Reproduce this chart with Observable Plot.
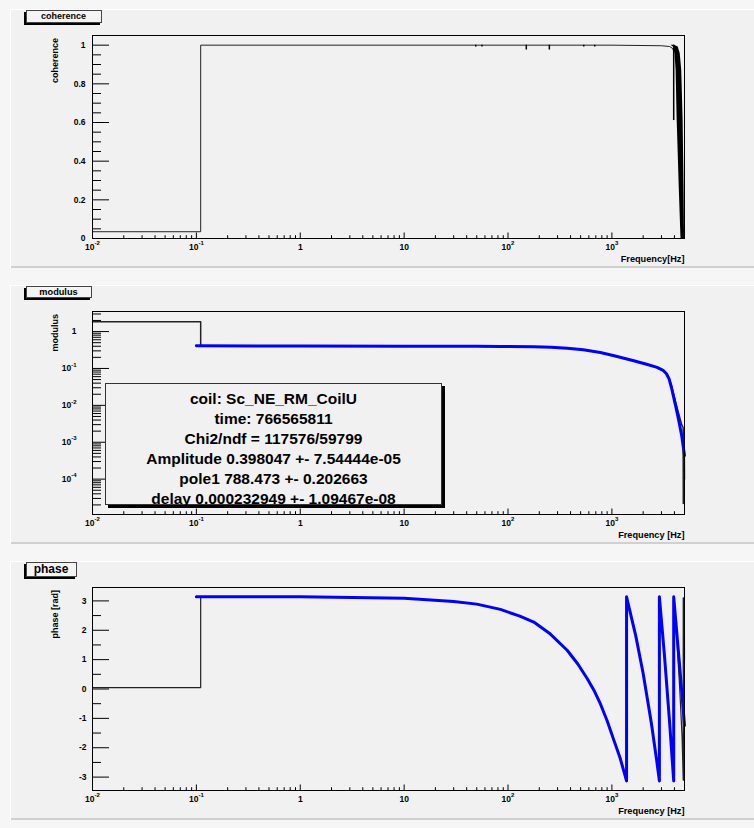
<!DOCTYPE html>
<html><head><meta charset="utf-8">
<script src="https://cdn.jsdelivr.net/npm/d3@7"></script>
<script src="https://cdn.jsdelivr.net/npm/@observablehq/plot@0.6"></script>
<style>
html,body{margin:0;padding:0;background:#f6f6f6;}
#canvas{position:relative;width:754px;height:828px;overflow:hidden;background:#f6f6f6;font-family:"Liberation Sans",Arial,Helvetica,sans-serif;color:#000;}
.pad{position:absolute;left:10px;width:760px;height:259px;background:#f1f1f1;box-shadow:inset 1px 1px 0 #ffffff, inset 0 -2px 0 #d0d0d0;}
.pad svg{position:absolute;left:0;top:0;}
.tbox{position:absolute;left:25.5px;background:#f4f4f4;border:1px solid #444;box-shadow:-2px 2px 0 #000;font-weight:bold;text-align:center;box-sizing:border-box;white-space:nowrap;}
#stats{position:absolute;left:105px;top:383.3px;width:337px;height:122px;box-sizing:border-box;border:1px solid #333;background:#f1f1f1;box-shadow:3px 3px 0 #000;font-weight:bold;font-size:15.5px;line-height:20px;padding-top:4.5px;text-align:center;white-space:nowrap;}
</style>
</head><body>
<div id="canvas">
  <div class="pad" id="pad1" style="top:9px"></div>
  <div class="pad" id="pad2" style="top:285px"></div>
  <div class="pad" id="pad3" style="top:561px"></div>
  <div class="tbox" style="top:10.3px;width:76px;height:12.4px;font-size:9px;line-height:10.4px;">coherence</div>
  <div class="tbox" style="top:286px;width:66px;height:12.3px;font-size:9.2px;line-height:10.3px;">modulus</div>
  <div class="tbox" style="top:562.3px;width:51px;height:14.4px;font-size:12px;line-height:12.4px;">phase</div>
  <div id="stats"></div>
</div>
<script>
// ---------- tick values / labels ----------
const xTickVals = [0.01, 0.1, 1, 10, 100, 1000];
const xTickLabels = ["10^-2", "10^-1", "1", "10", "10^2", "10^3"];
const cohTickVals = [0, 0.2, 0.4, 0.6, 0.8, 1];
const cohTickLabels = ["0", "0.2", "0.4", "0.6", "0.8", "1"];
const modTickVals = [1, 0.1, 0.01, 0.001, 0.0001];
const modTickLabels = ["1", "10^-1", "10^-2", "10^-3", "10^-4"];
const phaseTickVals = [-3, -2, -1, 0, 1, 2, 3];
const phaseTickLabels = ["-3", "-2", "-1", "0", "1", "2", "3"];

// ---------- coherence data ----------
const cohFreq = [0.01, 0.11, 0.11, 1000, 3000, 3600, 3800, 3950];
const cohVal  = [0.035, 0.035, 1, 1, 0.997, 0.993, 0.985, 0.97];
const cohBandY  = [1.0, 0.99, 0.955, 0.87, 0.61, 0.44, 0.265, 0.007, 0];
const cohBandLo = [3700, 3900, 4050, 4150, 4250, 4350, 4450, 4620, 4640];
const cohBandHi = [4000, 4350, 4550, 4700, 4850, 4900, 4950, 5000, 5000];
const cohDipFreq = [48.9, 56.2, 150, 250, 536, 684, 3935];
const cohDipVal  = [0.99, 0.99, 0.975, 0.975, 0.99, 0.99, 0.61];

// ---------- modulus data ----------
const modDataFreq = [0.01, 0.11, 0.11, 1, 10, 50, 84.5, 177, 260, 371, 530, 774, 1100, 1622, 2200, 2723, 3144, 3350, 3550, 3750, 3935, 4150, 4400, 4700, 4850, 4870, 4900, 4930, 4960, 5000];
const modDataVal  = [1.86, 1.86, 0.41, 0.405, 0.40, 0.398, 0.395, 0.386, 0.375, 0.355, 0.32, 0.27, 0.215, 0.162, 0.128, 0.107, 0.087, 0.074, 0.056, 0.034, 0.02, 0.011, 0.0059, 0.003, 0.0025, 2.2e-5, 0.0022, 5e-5, 0.0018, 1e-4];
const modFitFreq = [0.1, 1, 10, 50, 84.5, 177, 260, 371, 530, 774, 1100, 1622, 2200, 2723, 3144, 3350, 3550, 3750, 3935, 4150, 4400, 4700, 5000];
const modFitVal  = [0.411, 0.405, 0.40, 0.398, 0.395, 0.386, 0.375, 0.355, 0.32, 0.27, 0.215, 0.162, 0.128, 0.107, 0.087, 0.072, 0.052, 0.03, 0.0164, 0.0085, 0.0039, 0.0015, 0.00044];

// ---------- phase data ----------
const phDataFreq = [0.01, 0.11, 0.11, 1, 10, 30, 50, 84.5, 130, 177, 250, 371, 470, 580, 680, 774, 900, 1032, 1200, 1384, 1384, 1700, 2000, 2400, 2700, 2866, 2866, 3200, 3600, 3935, 3935, 4200, 4500, 4740, 4860, 4860, 4920, 4920, 4980, 4980, 5000];
const phDataVal  = [0.05, 0.05, 3.14, 3.14, 3.09, 2.98, 2.89, 2.71, 2.48, 2.28, 1.9, 1.32, 0.85, 0.35, -0.08, -0.50, -1.08, -1.69, -2.35, -3.13, 3.14, 1.80, 0.53, -1.17, -2.44, -3.13, 3.14, 1.18, -1.17, -3.13, 3.14, 1.8, 0.0, -1.64, -3.1, 3.1, -3.1, 3.1, -3.1, 3.1, 1.0];
const phFitFreq = [0.1, 1, 10, 30, 50, 84.5, 130, 177, 250, 371, 470, 580, 680, 774, 900, 1032, 1200, 1384, 1384, 1700, 2000, 2400, 2700, 2866, 2866, 3200, 3600, 3935, 3935, 4450, 5000];
const phFitVal  = [3.14, 3.14, 3.09, 2.98, 2.89, 2.71, 2.48, 2.28, 1.9, 1.32, 0.85, 0.35, -0.08, -0.50, -1.08, -1.69, -2.35, -3.13, 3.14, 1.80, 0.53, -1.17, -2.44, -3.13, 3.14, 1.18, -1.17, -3.13, 3.14, 0.95, -1.24];

// ---------- stats text ----------
const statsLines = [
  "coil: Sc_NE_RM_CoilU",
  "time: 766565811",
  "Chi2/ndf = 117576/59799",
  "Amplitude 0.398047 +- 7.54444e-05",
  "pole1 788.473 +- 0.202663",
  "delay 0.000232949 +- 1.09467e-08"
];

// ---------- layout ----------
const W = 744, H = 259, ML = 82, MR = 70, MT = 26, MB = 30;
const FW = W - ML - MR, FH = H - MT - MB;
const FONT = "Liberation Sans, Arial, Helvetica, sans-serif";
const INK = "#222";
const TICKFONT = 8.5;

const pts = (xs, ys) => xs.map((x, i) => ({x, y: ys[i]}));

function xMarks(title) {
  const minor = [];
  for (let e = -2; e <= 3; e++) for (let k = 2; k <= 9; k++) { const v = k * 10 ** e; if (v <= 5000) minor.push(v); }
  return [
    Plot.tickX(xTickVals, {x: d => d, insetTop: FH - 5.5, stroke: "#000"}),
    Plot.tickX(minor, {x: d => d, insetTop: FH - 2.8, stroke: "#000"}),
    Plot.text(xTickVals.map((v, i) => ({v, l: xTickLabels[i]})), {x: "v", text: "l", frameAnchor: "bottom", dy: 11, fontSize: TICKFONT, fontWeight: "bold", fill: "#000"}),
    Plot.text([title], {text: d => d, frameAnchor: "bottom-right", textAnchor: "end", dy: 23, fontSize: 9.2, fontWeight: "bold", fill: "#000"})
  ];
}
function yMarks(major, labels, minor, dx, title) {
  return [
    Plot.tickY(major, {y: d => d, insetRight: FW - 17, stroke: "#000"}),
    Plot.tickY(minor, {y: d => d, insetRight: FW - 9, stroke: "#000"}),
    Plot.text(major.map((v, i) => ({v, l: labels[i]})), {y: "v", text: "l", frameAnchor: "left", textAnchor: "end", dx: dx, fontSize: TICKFONT, fontWeight: "bold", fill: "#000"}),
    Plot.text([title], {text: d => d, frameAnchor: "top-left", rotate: -90, textAnchor: "end", lineAnchor: "bottom", dx: -34.5, dy: 2.5, fontSize: 9, fontWeight: "bold", fill: "#000"})
  ];
}
function supers(svg) {
  const ns = "http://www.w3.org/2000/svg";
  svg.querySelectorAll("text").forEach(t => {
    const m = /^([^\^]*)\^(.+)$/.exec(t.textContent);
    if (!m) return;
    t.textContent = "";
    const a = document.createElementNS(ns, "tspan"); a.textContent = m[1];
    const b = document.createElementNS(ns, "tspan"); b.textContent = m[2];
    b.setAttribute("dy", "-4.5"); b.setAttribute("font-size", "6");
    t.append(a, b);
  });
  return svg;
}
function base(y, marks) {
  return supers(Plot.plot({
    width: W, height: H, marginLeft: ML, marginRight: MR, marginTop: MT, marginBottom: MB,
    x: {type: "log", domain: [0.01, 5000], axis: null},
    y: Object.assign({axis: null}, y),
    style: {background: "transparent", fontFamily: FONT, overflow: "visible"},
    marks
  }));
}

// ---------- pad 1: coherence ----------
{
  const minor = d3.range(0, 1.051, 0.05).filter(v => Math.abs(v * 5 - Math.round(v * 5)) > 1e-6);
  const band = cohBandY.map((y, i) => ({y, lo: cohBandLo[i], hi: cohBandHi[i]}));
  const dips = cohDipFreq.map((f, i) => ({f, v: cohDipVal[i]}));
  const svg = base({type: "linear", domain: [0, 1.05]}, [
    Plot.areaX(band, {y: "y", x1: "lo", x2: "hi", fill: "#000"}),
    Plot.line(pts(cohFreq, cohVal), {x: "x", y: "y", stroke: INK, strokeWidth: 1}),
    Plot.ruleX(dips, {x: "f", y1: "v", y2: 1, stroke: "#000", strokeWidth: 1.5}),
    ...yMarks(cohTickVals, cohTickLabels, minor, -7, "coherence"),
    ...xMarks("Frequency[Hz]"),
    Plot.frame({stroke: "#000"})
  ]);
  document.getElementById("pad1").append(svg);
}

// ---------- pad 2: modulus ----------
{
  const minor = [];
  for (let e = -5; e <= 0; e++) for (let k = 2; k <= 9; k++) { const v = k * 10 ** e; if (v >= 1.1e-5 && v <= 3.5) minor.push(v); }
  const svg = base({type: "log", domain: [1.1e-5, 3.5]}, [
    Plot.line(pts(modDataFreq, modDataVal), {x: "x", y: "y", stroke: INK, strokeWidth: 1.5}),
    Plot.line(pts(modFitFreq, modFitVal), {x: "x", y: "y", stroke: "#0000ff", strokeWidth: 3}),
    ...yMarks(modTickVals, modTickLabels, minor, -16, "modulus"),
    ...xMarks("Frequency [Hz]"),
    Plot.frame({stroke: "#000"})
  ]);
  document.getElementById("pad2").append(svg);
  document.getElementById("stats").innerHTML = statsLines.map(s => `<div>${s}</div>`).join("");
}

// ---------- pad 3: phase ----------
{
  const minor = [-2.5, -1.5, -0.5, 0.5, 1.5, 2.5];
  const svg = base({type: "linear", domain: [-3.456, 3.456]}, [
    Plot.line(pts(phDataFreq, phDataVal), {x: "x", y: "y", stroke: INK, strokeWidth: 1.2}),
    Plot.line(pts(phFitFreq, phFitVal), {x: "x", y: "y", stroke: "#0000ff", strokeWidth: 3}),
    ...yMarks(phaseTickVals, phaseTickLabels, minor, -6, "phase [rad]"),
    ...xMarks("Frequency [Hz]"),
    Plot.frame({stroke: "#000"})
  ]);
  document.getElementById("pad3").append(svg);
}
</script>
</body></html>
